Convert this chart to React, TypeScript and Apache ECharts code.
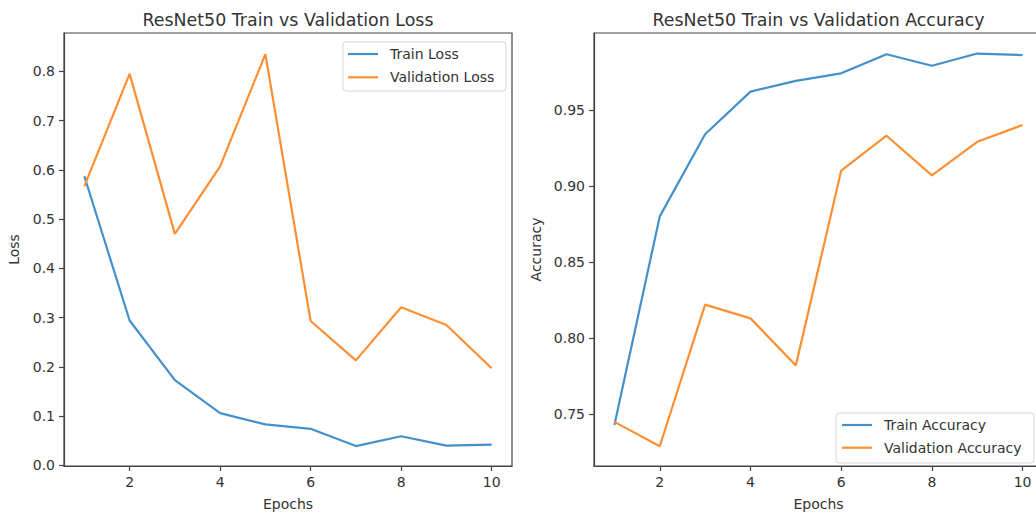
import React, { useEffect, useRef } from "react";
import * as echarts from "echarts";

const epochs = [1, 2, 3, 4, 5, 6, 7, 8, 9, 10];
const trainLoss = [0.587, 0.294, 0.173, 0.106, 0.083, 0.074, 0.039, 0.059, 0.04, 0.042];
const valLoss = [0.567, 0.795, 0.47, 0.607, 0.835, 0.293, 0.213, 0.321, 0.285, 0.197];
const trainAcc = [0.743, 0.88, 0.934, 0.962, 0.969, 0.974, 0.9865, 0.979, 0.987, 0.986];
const valAcc = [0.745, 0.729, 0.822, 0.813, 0.782, 0.91, 0.933, 0.907, 0.929, 0.94];

const xTicks = [2, 4, 6, 8, 10];
const lossTicks = [0, 0.1, 0.2, 0.3, 0.4, 0.5, 0.6, 0.7, 0.8];
const accTicks = [0.75, 0.8, 0.85, 0.9, 0.95];

const titles = ["ResNet50 Train vs Validation Loss", "ResNet50 Train vs Validation Accuracy"];
const lossNames = ["Train Loss", "Validation Loss"];
const accNames = ["Train Accuracy", "Validation Accuracy"];

const BLUE = "#4490cb";
const ORANGE = "#fd8f32";
const TEXT = "#333";
const SPINE = "#444";
const FONT = "DejaVu Sans";

export default function App() {
  const ref = useRef<HTMLDivElement>(null);
  useEffect(() => {
    if (!ref.current) return;
    const chart = echarts.init(ref.current, null, { renderer: "svg" });
    const pair = (ys: number[]) => epochs.map((e, i) => [e, ys[i]]);
    const xAxisBase = (gridIndex: number) => ({
      type: "value" as const,
      gridIndex,
      min: 0.55,
      max: 10.45,
      name: "Epochs",
      nameLocation: "middle" as const,
      nameGap: 31,
      nameTextStyle: { color: TEXT, fontSize: 14, fontFamily: FONT },
      axisLine: { show: true, onZero: false, lineStyle: { color: SPINE, width: 1.2 } },
      axisTick: { show: true, length: 5, customValues: xTicks, lineStyle: { color: SPINE, width: 1.2 } },
      axisLabel: { customValues: xTicks, margin: 9, color: TEXT, fontSize: 14, fontFamily: FONT, formatter: (v: number) => String(v) },
      splitLine: { show: false },
    });
    const yAxisBase = (gridIndex: number, min: number, max: number, ticks: number[], name: string, gap: number, dec: number) => ({
      type: "value" as const,
      gridIndex,
      min,
      max,
      name,
      nameLocation: "middle" as const,
      nameGap: gap,
      nameRotate: 90,
      nameTextStyle: { color: TEXT, fontSize: 14, fontFamily: FONT },
      axisLine: { show: true, onZero: false, lineStyle: { color: SPINE, width: 1.2 } },
      axisTick: { show: true, length: 5, customValues: ticks, lineStyle: { color: SPINE, width: 1.2 } },
      axisLabel: { customValues: ticks, margin: 9, color: TEXT, fontSize: 14, fontFamily: FONT, formatter: (v: number) => v.toFixed(dec) },
      splitLine: { show: false },
    });
    const legend = (x: number, y: number, w: number, h: number, names: string[], lineX: number, textX: number, rows: number[]) => ({
      type: "group",
      children: [
        { type: "rect", shape: { x, y, width: w, height: h, r: 3 }, style: { fill: "rgba(255,255,255,0.8)", stroke: "#d6d6d6", lineWidth: 1 } },
        ...names.flatMap((n, i) => [
          { type: "line", shape: { x1: lineX, y1: rows[i], x2: lineX + 30, y2: rows[i] }, style: { stroke: i === 0 ? BLUE : ORANGE, lineWidth: 2.2 } },
          { type: "text", x: textX, y: rows[i], style: { text: n, fill: TEXT, font: `14px '${FONT}'`, textVerticalAlign: "middle", textAlign: "left" } },
        ]),
      ],
    });
    chart.setOption({
      animation: false,
      grid: [
        { left: 64, top: 33, width: 448, height: 437, show: true, borderColor: SPINE, borderWidth: 1.2, backgroundColor: "transparent" },
        { left: 594, top: 33, width: 449, height: 437, show: true, borderColor: SPINE, borderWidth: 1.2, backgroundColor: "transparent" },
      ],
      xAxis: [xAxisBase(0), xAxisBase(1)],
      yAxis: [
        yAxisBase(0, -0.0015, 0.878, lossTicks, "Loss", 43, 1),
        yAxisBase(1, 0.716, 1.0005, accTicks, "Accuracy", 51, 2),
      ],
      series: [
        { name: lossNames[0], type: "line", xAxisIndex: 0, yAxisIndex: 0, data: pair(trainLoss), showSymbol: false, lineStyle: { color: BLUE, width: 2.2 }, itemStyle: { color: BLUE } },
        { name: lossNames[1], type: "line", xAxisIndex: 0, yAxisIndex: 0, data: pair(valLoss), showSymbol: false, lineStyle: { color: ORANGE, width: 2.2 }, itemStyle: { color: ORANGE } },
        { name: accNames[0], type: "line", xAxisIndex: 1, yAxisIndex: 1, data: pair(trainAcc), showSymbol: false, lineStyle: { color: BLUE, width: 2.2 }, itemStyle: { color: BLUE } },
        { name: accNames[1], type: "line", xAxisIndex: 1, yAxisIndex: 1, data: pair(valAcc), showSymbol: false, lineStyle: { color: ORANGE, width: 2.2 }, itemStyle: { color: ORANGE } },
      ],
      graphic: [
        { type: "text", x: 288, y: 20, style: { text: titles[0], fill: TEXT, font: `17.4px '${FONT}'`, textAlign: "center", textVerticalAlign: "middle" } },
        { type: "text", x: 818.5, y: 20, style: { text: titles[1], fill: TEXT, font: `17.4px '${FONT}'`, textAlign: "center", textVerticalAlign: "middle" } },
        legend(343, 42, 163, 49, lossNames, 348, 390, [54, 77.3]),
        legend(836, 413, 198, 50, accNames, 842, 884, [425, 447.7]),
      ],
    });
    return () => chart.dispose();
  }, []);
  return (
    <div style={{ position: "absolute", left: 0, top: 0, width: 1036, height: 516, overflow: "hidden", background: "#fff" }}>
      <div ref={ref} style={{ position: "absolute", left: 0, top: 0, width: 1060, height: 516 }} />
    </div>
  );
}
